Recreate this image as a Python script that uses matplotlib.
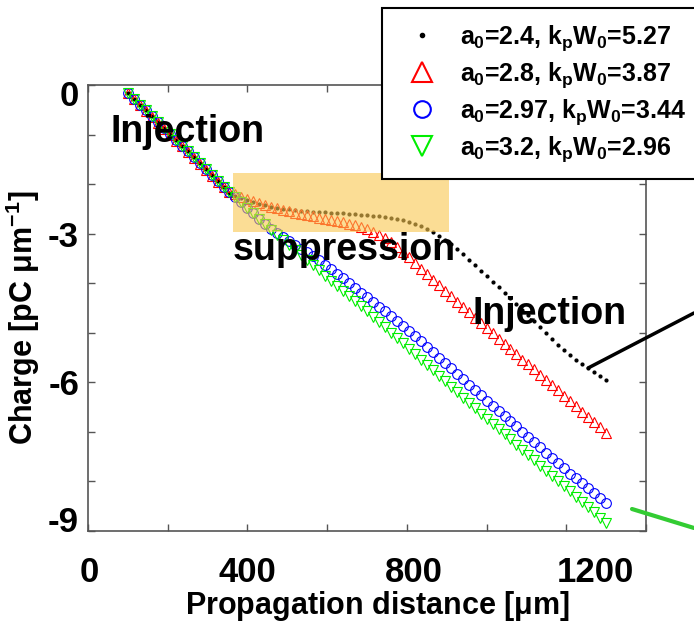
import numpy as np
import matplotlib
matplotlib.use('Agg')
import matplotlib.pyplot as plt
from matplotlib.patches import Rectangle

plt.rcParams['font.family'] = ['Liberation Sans', 'DejaVu Sans']
plt.rcParams['font.weight'] = 'bold'
plt.rcParams['axes.labelweight'] = 'bold'
plt.rcParams['mathtext.fontset'] = 'custom'
plt.rcParams['mathtext.rm'] = 'Liberation Sans:bold'
plt.rcParams['mathtext.it'] = 'Liberation Sans:bold'
plt.rcParams['mathtext.bf'] = 'Liberation Sans:bold'

# propagation distance [um]
distance = [100, 115, 130, 145, 160, 175, 190, 205, 220, 235, 250, 265, 280, 295, 310, 325, 340, 355,
            370, 385, 400, 415, 430, 445, 460, 475, 490, 505, 520, 535, 550, 565, 580, 595, 610, 625,
            640, 655, 670, 685, 700, 715, 730, 745, 760, 775, 790, 805, 820, 835, 850, 865, 880, 895,
            910, 925, 940, 955, 970, 985, 1000, 1015, 1030, 1045, 1060, 1075, 1090, 1105, 1120, 1135,
            1150, 1165, 1180, 1195, 1210, 1225, 1240, 1255, 1270, 1285, 1300]

# charge [pC/um]
charge_a24 = [-0.16, -0.28, -0.40, -0.51, -0.63, -0.75, -0.87, -0.99, -1.11, -1.23, -1.34, -1.46, -1.58, -1.70, -1.82, -1.94, -2.05, -2.17,
              -2.23, -2.28, -2.32, -2.36, -2.40, -2.43, -2.46, -2.48, -2.50, -2.51, -2.53, -2.54, -2.55, -2.56, -2.56, -2.57, -2.58, -2.58,
              -2.59, -2.60, -2.61, -2.62, -2.63, -2.64, -2.65, -2.67, -2.69, -2.71, -2.73, -2.76, -2.80, -2.85, -2.91, -2.97, -3.04, -3.12,
              -3.21, -3.31, -3.42, -3.53, -3.64, -3.75, -3.86, -3.97, -4.08, -4.19, -4.30, -4.42, -4.54, -4.65, -4.77, -4.89,
              -5.01, -5.13, -5.24, -5.34, -5.44, -5.54, -5.63, -5.71, -5.79, -5.87, -5.95]
charge_a28 = [-0.17, -0.29, -0.41, -0.52, -0.64, -0.76, -0.88, -1.00, -1.12, -1.24, -1.35, -1.47, -1.59, -1.71, -1.83, -1.95, -2.06, -2.16,
              -2.20, -2.25, -2.30, -2.34, -2.38, -2.42, -2.46, -2.49, -2.52, -2.55, -2.58, -2.60, -2.63, -2.65, -2.68, -2.70, -2.72, -2.74,
              -2.77, -2.80, -2.83, -2.87, -2.91, -2.96, -3.02, -3.09, -3.17, -3.26, -3.37, -3.48, -3.59, -3.71, -3.82, -3.93, -4.04, -4.15,
              -4.26, -4.37, -4.48, -4.59, -4.70, -4.80, -4.91, -5.01, -5.12, -5.22, -5.33, -5.43, -5.54, -5.64, -5.74, -5.85,
              -5.95, -6.06, -6.16, -6.27, -6.37, -6.48, -6.59, -6.70, -6.80, -6.91, -7.02]
charge_a297 = [-0.16, -0.28, -0.40, -0.51, -0.63, -0.75, -0.87, -0.99, -1.11, -1.23, -1.34, -1.46, -1.58, -1.70, -1.82, -1.94, -2.05, -2.16,
               -2.26, -2.37, -2.48, -2.59, -2.70, -2.80, -2.90, -2.99, -3.07, -3.15, -3.22, -3.30, -3.38, -3.46, -3.54, -3.63, -3.72, -3.81,
               -3.90, -4.00, -4.09, -4.19, -4.28, -4.38, -4.47, -4.57, -4.67, -4.77, -4.87, -4.97, -5.07, -5.17, -5.28, -5.39, -5.50, -5.61,
               -5.72, -5.83, -5.94, -6.05, -6.16, -6.26, -6.37, -6.47, -6.58, -6.68, -6.79, -6.89, -7.00, -7.10, -7.21, -7.31,
               -7.42, -7.52, -7.63, -7.73, -7.84, -7.94, -8.04, -8.14, -8.24, -8.34, -8.43]
charge_a32 = [-0.16, -0.28, -0.40, -0.51, -0.63, -0.75, -0.87, -0.99, -1.11, -1.23, -1.34, -1.46, -1.58, -1.70, -1.82, -1.94, -2.05, -2.16,
              -2.26, -2.37, -2.48, -2.59, -2.70, -2.81, -2.92, -3.02, -3.12, -3.22, -3.33, -3.43, -3.54, -3.64, -3.74, -3.85, -3.95, -4.05,
              -4.15, -4.25, -4.35, -4.46, -4.57, -4.68, -4.78, -4.89, -5.00, -5.11, -5.21, -5.32, -5.43, -5.54, -5.65, -5.76, -5.87, -5.98,
              -6.09, -6.20, -6.31, -6.42, -6.52, -6.63, -6.73, -6.84, -6.94, -7.05, -7.15, -7.26, -7.36, -7.47, -7.57, -7.68,
              -7.78, -7.89, -7.99, -8.10, -8.20, -8.31, -8.41, -8.52, -8.62, -8.73, -8.83]

labels = [r'$a_0$=2.4, $k_pW_0$=5.27',
          r'$a_0$=2.8, $k_pW_0$=3.87',
          r'$a_0$=2.97, $k_pW_0$=3.44',
          r'$a_0$=3.2, $k_pW_0$=2.96']

xtick_vals = [0, 400, 800, 1200]
xtick_shift = [1, 0, 7, 29]      # label offsets in px, like the original
ytick_vals = [0, -3, -6, -9]
ytick_shift = [-12, -4, -3, 9]

# highlighted "suppression" region (x, y, width, height)
supp_box = (363, -2.97, 543, 1.2)

fig = plt.figure(figsize=(6.94, 6.23), dpi=100)
ax = fig.add_axes([88/694, (623-531)/623, 558/694, 446/623])

h1, = ax.plot(distance, charge_a24, '.', color='k', ms=4)
h2, = ax.plot(distance, charge_a28, '^', mfc='none', mec='#ff0000', ms=7.5, mew=0.8)
h3, = ax.plot(distance, charge_a297, 'o', mfc='none', mec='#0000ff', ms=7, mew=0.8)
h4, = ax.plot(distance, charge_a32, 'v', mfc='none', mec='#00ee00', ms=7.5, mew=0.8)

ax.add_patch(Rectangle(supp_box[:2], supp_box[2], supp_box[3], facecolor='#F9C74F',
                       edgecolor='none', alpha=0.6, zorder=2.5))

ax.text(56, -1.15, 'Injection', fontsize=27, va='baseline')
ax.text(364, -3.53, 'suppression', fontsize=27, va='baseline')
ax.text(965, -4.82, 'Injection', fontsize=27, va='baseline')

ax.set_xlim(0, 1400)
ax.set_ylim(-9, 0)
ax.set_xticks(range(0, 1401, 200))
ax.set_yticks(range(-9, 1))
ax.tick_params(which='both', direction='in', length=5, width=1, color='#555555',
               top=True, right=True, labelbottom=False, labelleft=False)
for s in ax.spines.values():
    s.set_color('#555555')
    s.set_linewidth(1.2)

# tick labels (shifted a bit like in the original figure)
for v, d in zip(xtick_vals, xtick_shift):
    ax.annotate(str(v), xy=(v, 0), xycoords=ax.get_xaxis_transform(),
                xytext=(d, -25), textcoords='offset pixels',
                ha='center', va='top', fontsize=25)
for v, d in zip(ytick_vals, ytick_shift):
    ax.annotate(str(v), xy=(0, v), xycoords=ax.get_yaxis_transform(),
                xytext=(-9, d), textcoords='offset pixels',
                ha='right', va='center', fontsize=25)

ax.set_xlabel(r'Propagation distance [$\mu$m]', fontsize=22, fontweight='bold')
ax.xaxis.set_label_coords(0.518, -0.13)
ax.xaxis.label.set_va('top')
ax.set_ylabel(r'Charge [pC $\mu$m$^{-1}$]', fontsize=22, fontweight='bold')
ax.yaxis.set_label_coords(-0.083, 0.479)

leg = fig.legend([h1, h2, h3, h4], labels, loc='upper left',
                 bbox_to_anchor=(382/694, 1-8/623), fontsize=18, frameon=True,
                 fancybox=False, edgecolor='k', framealpha=1, borderpad=0.6,
                 handlelength=2.0, handletextpad=0.5, labelspacing=0.3, borderaxespad=0)
leg.get_frame().set_linewidth(1.5)
for hd, ms in zip(leg.legend_handles, [5, 14, 12, 14]):
    hd.set_markersize(ms)
    hd.set_markeredgewidth(1.5)

# pointer lines from the neighbouring panels
ax.annotate('', xy=(distance[77], charge_a24[77]), xytext=(694, 623-313),
            textcoords='figure pixels', annotation_clip=False,
            arrowprops=dict(arrowstyle='-', lw=2.5, color='k', shrinkA=0, shrinkB=0))
ax.annotate('', xy=(632, 623-509), xycoords='figure pixels', xytext=(694, 623-528),
            textcoords='figure pixels', annotation_clip=False,
            arrowprops=dict(arrowstyle='-', lw=3, color='#33cc33', shrinkA=0, shrinkB=0))

fig.savefig('out.png', dpi=100)
